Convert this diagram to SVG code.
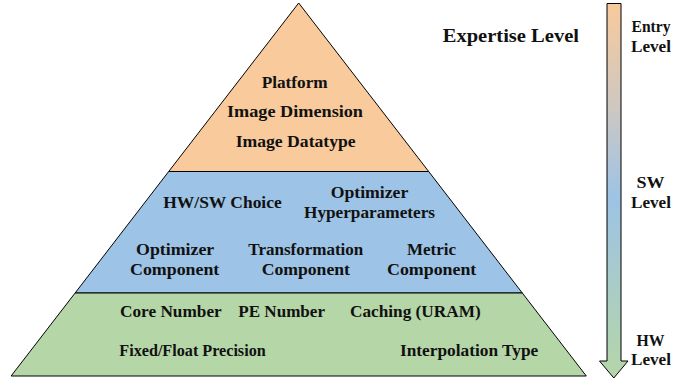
<svg xmlns="http://www.w3.org/2000/svg" width="699" height="379" viewBox="0 0 699 379">
  <style>
    .tier { stroke: #000; stroke-width: 1; stroke-linejoin: miter; }
    .entry { fill: #F8CA9C; }
    .sw { fill: #9DC3E6; }
    .hw { fill: #B5D6A7; }
    text { font-family: "Liberation Serif", "Times New Roman", serif; font-weight: bold; fill: #111; }
    .lbl { font-size: 16px; }
    .title { font-size: 19.5px; }
  </style>
  <defs>
    <linearGradient id="levelGrad" gradientUnits="userSpaceOnUse" x1="0" y1="3" x2="0" y2="378">
      <stop offset="0" stop-color="#F8CA9C"/>
      <stop offset="0.27" stop-color="#CFC8C0"/>
      <stop offset="0.52" stop-color="#9DC3E6"/>
      <stop offset="1" stop-color="#B5D6A7"/>
    </linearGradient>
  </defs>

  <!-- Entry tier -->
  <g id="tier-entry">
    <polygon class="tier entry" points="298.7,3 428.7,171.5 168.7,171.5"/>
    <text class="lbl" x="261.7" y="87.5" textLength="66" lengthAdjust="spacingAndGlyphs">Platform</text>
    <text class="lbl" x="227" y="117.3" textLength="136" lengthAdjust="spacingAndGlyphs">Image Dimension</text>
    <text class="lbl" x="235.7" y="146.5" textLength="120" lengthAdjust="spacingAndGlyphs">Image Datatype</text>
  </g>

  <!-- Software tier -->
  <g id="tier-sw">
    <polygon class="tier sw" points="168.7,171.5 428.7,171.5 522.3,293 75.1,293"/>
    <text class="lbl" x="163.3" y="208.3" textLength="118.4" lengthAdjust="spacingAndGlyphs">HW/SW Choice</text>
    <text class="lbl" x="330.7" y="197.7" textLength="77.6" lengthAdjust="spacingAndGlyphs">Optimizer</text>
    <text class="lbl" x="304" y="218" textLength="131" lengthAdjust="spacingAndGlyphs">Hyperparameters</text>
    <text class="lbl" x="136" y="255.3" textLength="78.3" lengthAdjust="spacingAndGlyphs">Optimizer</text>
    <text class="lbl" x="130" y="274.5" textLength="89.3" lengthAdjust="spacingAndGlyphs">Component</text>
    <text class="lbl" x="248.3" y="255.3" textLength="115" lengthAdjust="spacingAndGlyphs">Transformation</text>
    <text class="lbl" x="261.7" y="274.5" textLength="88.3" lengthAdjust="spacingAndGlyphs">Component</text>
    <text class="lbl" x="407" y="255.3" textLength="49" lengthAdjust="spacingAndGlyphs">Metric</text>
    <text class="lbl" x="387" y="274.5" textLength="89.3" lengthAdjust="spacingAndGlyphs">Component</text>
  </g>

  <!-- Hardware tier -->
  <g id="tier-hw">
    <polygon class="tier hw" points="75.1,293 522.3,293 586.3,376 11.1,376"/>
    <text class="lbl" x="120" y="316.7" textLength="101.7" lengthAdjust="spacingAndGlyphs">Core Number</text>
    <text class="lbl" x="238.3" y="316.7" textLength="86.7" lengthAdjust="spacingAndGlyphs">PE Number</text>
    <text class="lbl" x="350" y="316.7" textLength="130.7" lengthAdjust="spacingAndGlyphs">Caching (URAM)</text>
    <text class="lbl" x="119.3" y="355.7" textLength="146.4" lengthAdjust="spacingAndGlyphs">Fixed/Float Precision</text>
    <text class="lbl" x="400" y="355.7" textLength="138.3" lengthAdjust="spacingAndGlyphs">Interpolation Type</text>
  </g>

  <!-- Expertise scale -->
  <g id="expertise-scale">
    <text class="title" x="442.7" y="41.5" textLength="136.3" lengthAdjust="spacingAndGlyphs">Expertise Level</text>
    <polygon points="607,3.5 621,3.5 621,361 628,361 613.8,378 599.5,361 607,361" fill="url(#levelGrad)" stroke="#000" stroke-width="1"/>
    <g class="lbl">
      <text x="631.5" y="31.7" textLength="39" lengthAdjust="spacingAndGlyphs">Entry</text>
      <text x="631" y="52.3" textLength="40" lengthAdjust="spacingAndGlyphs">Level</text>
      <text x="636.5" y="188.3" textLength="28" lengthAdjust="spacingAndGlyphs">SW</text>
      <text x="631" y="207.7" textLength="40" lengthAdjust="spacingAndGlyphs">Level</text>
      <text x="636.5" y="346" textLength="28" lengthAdjust="spacingAndGlyphs">HW</text>
      <text x="631" y="364.5" textLength="40" lengthAdjust="spacingAndGlyphs">Level</text>
    </g>
  </g>
</svg>
